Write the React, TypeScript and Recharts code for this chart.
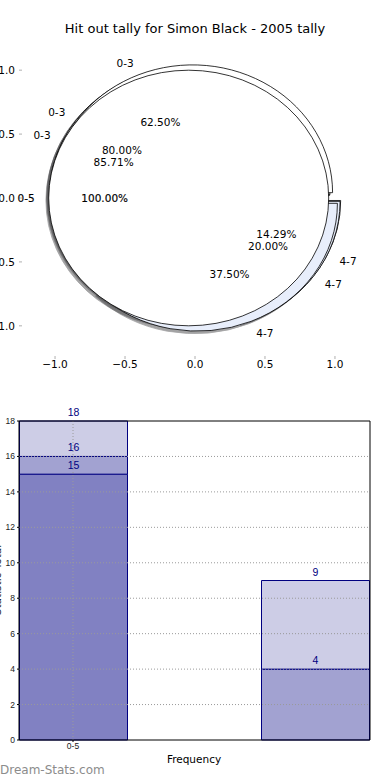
import { PieChart, Pie, ScatterChart, Scatter, XAxis, YAxis, BarChart, Bar, ReferenceLine, LabelList } from 'recharts'

const title = 'Hit out tally for Simon Black - 2005 tally'

// pie tallies, in drawing order (last one ends up on top)
const splitNames = ['0-3', '4-7']
const tally86 = [6, 1]
const tally80 = [4, 1]
const tally62 = [5, 3]
const wholeNames = ['0-5']
const tallyWhole = [18]

const axisTicks = [-1, -0.5, 0, 0.5, 1]

// stacked frequency bars
const barCats = ['0-5', '', '4-7']
const barLow = [15, 0, 0]
const barMid = [1, 0, 4]
const barTop = [2, 0, 5]
const barTicks = [0, 2, 4, 6, 8, 10, 12, 14, 16, 18]

const sliceColor: Record<string, string> = { '0-3': '#ffffff', '4-7': '#e8eefb', '0-5': '#ffffff' }

const font = '"DejaVu Sans", sans-serif'
const barFont = '"Liberation Sans", sans-serif'
const SX = 140
const SY = 127.8
const CX = 195
const CY = 198
const EXPLODE = 0.045
const RAD = Math.PI / 180
const OX = 40
const XMIN = -0.4463
const XMAX = 2.4545

const pies = [
  { names: splitNames, values: tally86 },
  { names: splitNames, values: tally80 },
  { names: splitNames, values: tally62 },
  { names: wholeNames, values: tallyWhole },
].map((p) => p.names.map((n, i) => ({ n, v: p.values[i] })))

const barRows = barCats.map((c, i) => ({
  idx: i,
  low: barLow[i],
  mid: barMid[i],
  top: barTop[i],
  lowSum: barLow[i] > 0 ? barLow[i] : null,
  midSum: barMid[i] > 0 ? barLow[i] + barMid[i] : null,
  topSum: barTop[i] > 0 ? barLow[i] + barMid[i] + barTop[i] : null,
}))

function geom(p: any) {
  const rx = p.outerRadius
  const ry = (rx * SY) / SX
  const m = p.midAngle * RAD
  return { rx, ry, m, ox: p.cx + EXPLODE * rx * Math.cos(m), oy: p.cy - EXPLODE * ry * Math.sin(m) }
}

function wedge(p: any, dx: number, dy: number, fill: string, stroke: string, opacity: number) {
  const { rx, ry, ox, oy } = geom(p)
  const x0 = ox + dx
  const y0 = oy + dy
  const span = p.endAngle - p.startAngle
  if (Math.abs(span) > 359.9) {
    return <ellipse cx={x0} cy={y0} rx={rx} ry={ry} fill={fill} stroke={stroke} strokeWidth={0.8} opacity={opacity} />
  }
  const pt = (a: number) => [x0 + rx * Math.cos(a * RAD), y0 - ry * Math.sin(a * RAD)]
  const [sx, sy] = pt(p.startAngle)
  const [ex, ey] = pt(p.endAngle)
  const large = Math.abs(span) > 180 ? 1 : 0
  const sweep = span > 0 ? 0 : 1
  const d = `M${x0},${y0} L${sx},${sy} A${rx},${ry} 0 ${large} ${sweep} ${ex},${ey} Z`
  return <path d={d} fill={fill} stroke={stroke} strokeWidth={0.8} strokeLinejoin="round" opacity={opacity} />
}

const shadowLayer = (p: any) => wedge(p, -0.02 * SX, 0.02 * SY, '#4a4a4c', '#4a4a4c', 0.5)
const faceLayer = (p: any) => wedge(p, 0, 0, sliceColor[p.name] || '#fff', '#000', 1)
const textLayer = (p: any) => {
  const { rx, ry, m, ox, oy } = geom(p)
  const lx = ox + 1.1 * rx * Math.cos(m)
  const ly = oy - 1.1 * ry * Math.sin(m)
  const px = ox + 0.6 * rx * Math.cos(m)
  const py = oy - 0.6 * ry * Math.sin(m)
  const heavy = p.percent > 0.999 ? { stroke: '#000', strokeWidth: 0.15 } : {}
  return (
    <g fontFamily={font} fontSize={10.5} fill="#000" {...heavy}>
      <text x={lx} y={ly} textAnchor={lx > p.cx ? 'start' : 'end'} dominantBaseline="central">{p.name}</text>
      <text x={px} y={py} textAnchor="middle" dominantBaseline="central">{(p.percent * 100).toFixed(2)}%</text>
    </g>
  )
}

const fmtTick = (v: number) => v.toFixed(1).replace('-', '\u2212')

function pieLayer(layer: (p: any) => any, tag: string) {
  return pies.map((data, i) => (
    <Pie
      key={tag + i}
      data={data}
      dataKey="v"
      nameKey="n"
      cx={CX}
      cy={CY}
      outerRadius={SX}
      fill="none"
      stroke="none"
      labelLine={false}
      label={layer}
      isAnimationActive={false}
    />
  ))
}

export default function App() {
  const tickFont = { fontFamily: font, fontSize: 10.5, fill: '#000' }
  const smallFont = { fontFamily: barFont, fontSize: 8.5, fill: '#222' }
  const labelProps = { position: 'top' as const, fill: '#000080', fontSize: 10.5, fontFamily: barFont }
  return (
    <div style={{ position: 'fixed', left: 0, top: 0, width: 390, height: 780, overflow: 'hidden', background: '#fff', fontFamily: font }}>
      <div style={{ position: 'absolute', left: 0, top: 22, width: 390, textAlign: 'center', fontSize: 13, lineHeight: '14px' }}>
        {title}
      </div>

      <div style={{ position: 'absolute', left: -OX, top: 0 }}>
        <ScatterChart width={390 + OX} height={380} margin={{ top: 36, right: 18, bottom: 4, left: 32 }}>
          <XAxis type="number" dataKey="x" domain={[-1.236, 1.236]} ticks={axisTicks} tickFormatter={fmtTick}
            axisLine={false} tickLine={{ stroke: '#b0b0b0' }} tickSize={3} tickMargin={2} height={20} tick={tickFont} allowDataOverflow />
          <XAxis xAxisId="top" orientation="top" type="number" domain={[-1.236, 1.236]} ticks={axisTicks}
            axisLine={false} tickLine={{ stroke: '#b0b0b0' }} tickSize={3} tick={false} height={4} allowDataOverflow />
          <YAxis type="number" dataKey="y" domain={[-1.236, 1.236]} ticks={axisTicks} tickFormatter={fmtTick}
            axisLine={false} tickLine={{ stroke: '#b0b0b0' }} tickSize={3} tickMargin={4} width={30} tick={tickFont} allowDataOverflow />
          <YAxis yAxisId="right" orientation="right" type="number" domain={[-1.236, 1.236]} ticks={axisTicks}
            axisLine={false} tickLine={{ stroke: '#b0b0b0' }} tickSize={3} tick={false} width={4} allowDataOverflow />
          <Scatter data={[]} isAnimationActive={false} />
        </ScatterChart>
      </div>

      <div style={{ position: 'absolute', left: 0, top: 0 }}>
        <PieChart width={390} height={380} margin={{ top: 0, right: 0, bottom: 0, left: 0 }}>
          {pieLayer(shadowLayer, 's')}
          {pieLayer(faceLayer, 'f')}
          {pieLayer(textLayer, 't')}
        </PieChart>
      </div>

      <div style={{ position: 'absolute', left: 0, top: 400 }}>
        <BarChart width={390} height={380} data={barRows} margin={{ top: 21, right: 20, bottom: 20, left: 0 }}>
          <XAxis dataKey="idx" type="number" domain={[XMIN, XMAX]} ticks={[0]} tickFormatter={(v) => barCats[v]}
            axisLine={{ stroke: '#000' }} tickLine={{ stroke: '#000' }} tickSize={2} tickMargin={1} height={20} tick={smallFont} allowDataOverflow />
          <YAxis domain={[0, 18]} ticks={barTicks} axisLine={{ stroke: '#000' }} tickLine={{ stroke: '#000' }}
            tickSize={2} tickMargin={2} width={19} tick={smallFont} interval={0} />
          <Bar dataKey="low" stackId="s" barSize={108} fill="#8181c2" stroke="#000080" strokeWidth={1} isAnimationActive={false}>
            <LabelList dataKey="lowSum" {...labelProps} />
          </Bar>
          <Bar dataKey="mid" stackId="s" barSize={108} fill="#a2a2d1" stroke="#000080" strokeWidth={1} isAnimationActive={false}>
            <LabelList dataKey="midSum" {...labelProps} />
          </Bar>
          <Bar dataKey="top" stackId="s" barSize={108} fill="#cdcde6" stroke="#000080" strokeWidth={1} isAnimationActive={false}>
            <LabelList dataKey="topSum" {...labelProps} />
          </Bar>
          {barTicks.slice(1, -1).map((t) => (
            <ReferenceLine key={'g' + t} y={t} stroke="#9a9a9a" strokeDasharray="1 2" />
          ))}
          <ReferenceLine x={0} stroke="#9a9a9a" strokeDasharray="1 2" />
          <ReferenceLine y={18} stroke="#000" />
          <ReferenceLine x={XMAX} stroke="#000" />
        </BarChart>
      </div>

      <div style={{ position: 'absolute', left: -103, top: 573, width: 200, textAlign: 'center', transform: 'rotate(-90deg)', fontSize: 10.5, lineHeight: '14px', color: '#222' }}>
        Statistic Total
      </div>
      <div style={{ position: 'absolute', left: 0, top: 752, width: 388, textAlign: 'center', fontSize: 10.5, lineHeight: '14px' }}>
        Frequency
      </div>
      <div style={{ position: 'absolute', left: 0, top: 763, fontSize: 12, lineHeight: '14px', color: '#8c8c8c' }}>
        Dream-Stats.com
      </div>
    </div>
  )
}
